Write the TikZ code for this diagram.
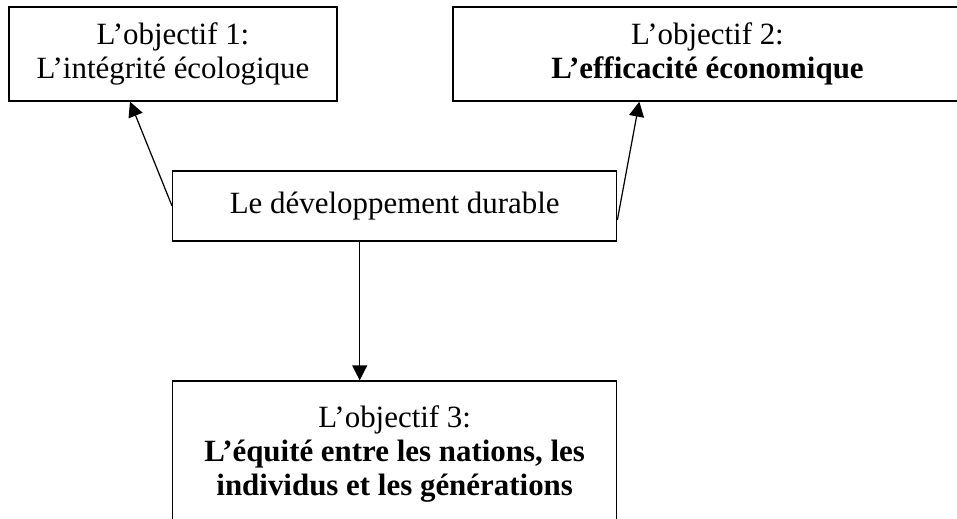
\documentclass[tikz,border=0pt]{standalone}
\usepackage{fontspec}
\setmainfont{Liberation Serif}
\usetikzlibrary{arrows.meta,positioning}
\tikzset{every node/.append style={font=\fontsize{17.6}{19.3}\selectfont}}
\tikzset{box/.style={draw, line width=0.8pt, align=center, inner sep=0pt}}
\tikzset{arr/.style={-{Triangle[length=8.5pt,width=8.5pt]}, line width=0.7pt}}

\begin{document}
\begin{tikzpicture}[x=0.02cm,y=-0.02cm]
  \useasboundingbox (0,0) rectangle (957,518);
  \clip (0,0) rectangle (957,518);

  \node[box, minimum width=6.56cm, minimum height=1.88cm] (obj1) at (173,54)
       {L’objectif 1:\\ L’intégrité écologique};
  \node[box, minimum width=10.18cm, minimum height=1.88cm] (obj2) at (707.5,54)
       {L’objectif 2:\\ \textbf{L’efficacité économique}};
  \node[box, minimum width=8.88cm, minimum height=1.4cm] (dev) at (394.7,206)
       {Le développement durable};
  \node[box, minimum width=8.88cm, minimum height=2.92cm] (obj3) at (394.7,454)
       {L’objectif 3:\\ \textbf{L’équité entre les nations, les}\\
        \textbf{individus et les générations}};

  \draw[arr] (dev.west) -- ([xshift=-0.86cm]obj1.south);
  \draw[arr] ([yshift=-0.28cm]dev.east) -- ([xshift=3.74cm]obj2.south west);
  \draw[arr] ([xshift=-0.7cm]dev.south) -- ([xshift=-0.7cm]obj3.north);

%  \draw (0,0) grid[step=50] (957,518);
\end{tikzpicture}
\end{document}
